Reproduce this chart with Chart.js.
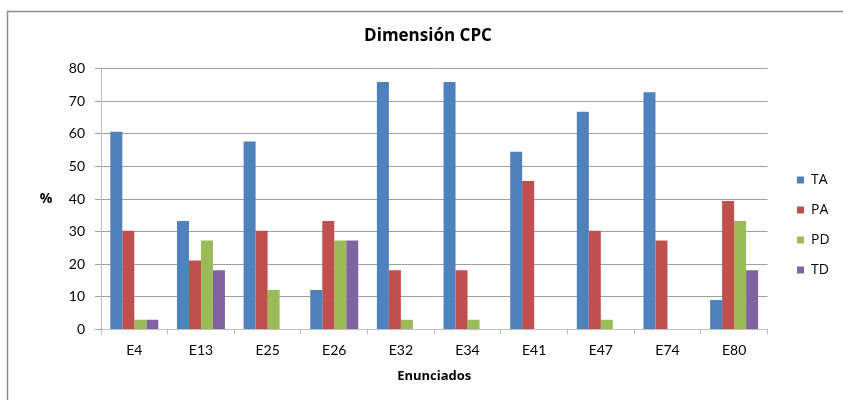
<!DOCTYPE html>
<html>
<head>
<meta charset="utf-8">
<script src="https://cdn.jsdelivr.net/npm/chart.js@4/dist/chart.umd.min.js"></script>
<style>
  html, body { margin: 0; padding: 0; background: #ffffff; }
  #wrap { width: 843px; height: 400px; }
</style>
</head>
<body>
<div id="wrap"><canvas id="c" width="843" height="400"></canvas></div>
<script>
// Enunciados evaluados y porcentaje de respuestas por categoría
const categories = ['E4', 'E13', 'E25', 'E26', 'E32', 'E34', 'E41', 'E47', 'E74', 'E80'];
const TA = [60.6, 33.3, 57.6, 12.1, 75.8, 75.8, 54.5, 66.7, 72.7, 9.1];
const PA = [30.3, 21.2, 30.3, 33.3, 18.2, 18.2, 45.5, 30.3, 27.3, 39.4];
const PD = [3.0, 27.3, 12.1, 27.3, 3.0, 3.0, 0, 3.0, 0, 33.3];
const TD = [3.0, 18.2, 0, 27.3, 0, 0, 0, 0, 0, 18.2];
const seriesNames = ['TA', 'PA', 'PD', 'TD'];
const seriesColors = ['#4f81bd', '#c0504d', '#9bbb59', '#8064a2'];
const yTicks = { min: 0, max: 80, step: 10 };

const FONT = 'Lato, "Open Sans", "Liberation Sans", sans-serif';
const WIDE = '"Open Sans", Lato, "Liberation Sans", sans-serif';

// Marco exterior, rótulo "%" y ubicación de título y leyenda
const framePlugin = {
  id: 'frame',
  afterLayout(chart) {
    const lg = chart.legend;
    if (lg) {
      const dx = 797 - (lg.left + lg.options.labels.padding);
      lg.left += dx; lg.right += dx;
      const dy = 228 - (lg.top + lg.bottom) / 2 - 3;
      lg.top += dy; lg.bottom += dy;
    }
    const tb = chart.titleBlock;
    if (tb) {
      const dx = 428 - (tb.left + tb.right) / 2;
      tb.left += dx; tb.right += dx;
    }
  },
  beforeDraw(chart) {
    const ctx = chart.ctx;
    ctx.save();
    ctx.fillStyle = '#ffffff';
    ctx.fillRect(0, 0, chart.width, chart.height);
    ctx.strokeStyle = '#8c8c8c';
    ctx.lineWidth = 1.5;
    ctx.strokeRect(7.5, 11.5, 1000, 1000);
    ctx.restore();
  },
  afterDraw(chart) {
    const ctx = chart.ctx;
    const y = chart.scales.y;
    ctx.save();
    ctx.fillStyle = '#000000';
    ctx.font = 'bold 14px ' + WIDE;
    ctx.textAlign = 'center';
    ctx.textBaseline = 'middle';
    ctx.fillText('%', 46, y.getPixelForValue(40));
    ctx.restore();
  }
};

const data = [TA, PA, PD, TD];
new Chart(document.getElementById('c'), {
  type: 'bar',
  data: {
    labels: categories,
    datasets: seriesNames.map((name, i) => ({
      label: name,
      data: data[i],
      backgroundColor: seriesColors[i],
      borderWidth: 0,
      barPercentage: 1,
      categoryPercentage: 0.72
    }))
  },
  options: {
    responsive: false,
    animation: false,
    devicePixelRatio: 1,
    layout: { padding: { left: 8, right: 17, top: 0, bottom: 16 } },
    plugins: {
      title: {
        display: true,
        text: 'Dimensión CPC',
        color: '#000000',
        font: { family: WIDE, size: 17, weight: 'bold' },
        padding: { top: 26, bottom: 22 }
      },
      legend: {
        position: 'right',
        labels: {
          boxWidth: 7,
          boxHeight: 7,
          padding: 16,
          color: '#000000',
          font: { family: WIDE, size: 14 }
        }
      },
      tooltip: { enabled: false }
    },
    scales: {
      x: {
        grid: {
          drawOnChartArea: false,
          drawTicks: true,
          tickLength: 5,
          color: '#bfbfbf'
        },
        border: { color: '#bfbfbf' },
        ticks: {
          color: '#000000',
          padding: 7,
          font: { family: FONT, size: 14 }
        },
        title: {
          display: true,
          text: 'Enunciados',
          color: '#000000',
          font: { family: WIDE, size: 13, weight: 'bold' },
          padding: { top: 3, bottom: 0 }
        }
      },
      y: {
        min: yTicks.min,
        max: yTicks.max,
        afterFit(scale) { scale.width = 93; },
        grid: {
          color: '#a0a0a0',
          tickLength: 6
        },
        border: { color: '#bfbfbf' },
        ticks: {
          stepSize: yTicks.step,
          color: '#000000',
          padding: 10,
          font: { family: FONT, size: 14 }
        }
      }
    }
  },
  plugins: [framePlugin]
});
</script>
</body>
</html>
